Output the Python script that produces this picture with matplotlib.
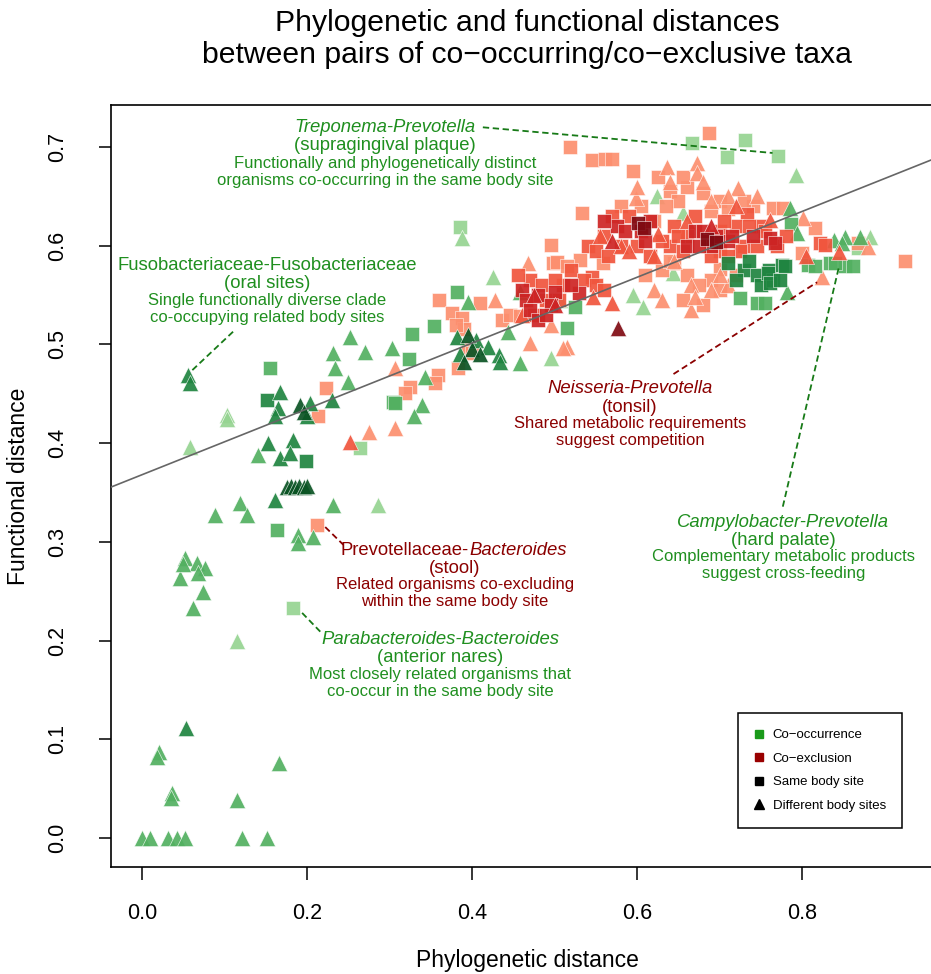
import matplotlib
matplotlib.use('Agg')
import matplotlib.pyplot as plt
from matplotlib.lines import Line2D

plt.rcParams['font.family'] = ['Liberation Sans', 'DejaVu Sans']

# (phylogenetic distance, functional distance, shade 1=light .. 4=darkest)
# co-occurrence, same body site (green squares)
green_squares = [
    (0.164, 0.312, 2), (0.199, 0.382, 3), (0.183, 0.233, 1), (0.155, 0.476, 2),
    (0.151, 0.444, 3), (0.264, 0.395, 1), (0.304, 0.442, 2), (0.385, 0.619, 1),
    (0.382, 0.553, 2), (0.354, 0.519, 2), (0.327, 0.511, 2), (0.324, 0.485, 2),
    (0.307, 0.441, 2), (0.515, 0.517, 2), (0.525, 0.538, 2),
    (0.667, 0.704, 1), (0.731, 0.707, 1), (0.709, 0.690, 1), (0.771, 0.691, 1),
    (0.834, 0.583, 2), (0.852, 0.579, 2), (0.807, 0.580, 2), (0.725, 0.547, 2),
    (0.745, 0.542, 2), (0.755, 0.542, 2), (0.816, 0.579, 2), (0.840, 0.583, 2),
    (0.861, 0.579, 2), (0.868, 0.598, 1), (0.786, 0.622, 2),
    (0.710, 0.583, 3), (0.730, 0.575, 3), (0.745, 0.570, 3), (0.760, 0.575, 3),
    (0.775, 0.580, 3), (0.720, 0.565, 3), (0.750, 0.560, 3), (0.735, 0.585, 3),
    (0.765, 0.565, 3), (0.758, 0.572, 3), (0.761, 0.562, 3), (0.773, 0.565, 3),
    (0.779, 0.579, 3),
]

# co-occurrence, different body sites (green triangles)
green_triangles = [
    (0.000, 0.000, 2), (0.010, 0.000, 2), (0.032, 0.000, 2), (0.043, 0.000, 2),
    (0.052, 0.000, 2), (0.121, 0.000, 2), (0.152, 0.000, 2),
    (0.036, 0.046, 2), (0.035, 0.040, 2), (0.115, 0.038, 2), (0.166, 0.076, 2),
    (0.053, 0.111, 3), (0.020, 0.087, 2), (0.018, 0.082, 2), (0.115, 0.200, 1),
    (0.052, 0.284, 2), (0.067, 0.279, 2), (0.076, 0.274, 2), (0.046, 0.263, 2),
    (0.068, 0.268, 2), (0.074, 0.249, 2), (0.062, 0.233, 2), (0.050, 0.278, 2),
    (0.088, 0.327, 2), (0.119, 0.339, 2), (0.127, 0.327, 2), (0.161, 0.342, 3),
    (0.232, 0.337, 2), (0.286, 0.337, 1),
    (0.189, 0.307, 2), (0.189, 0.299, 2), (0.207, 0.305, 2),
    (0.176, 0.356, 4), (0.180, 0.357, 4), (0.185, 0.356, 4), (0.190, 0.357, 4),
    (0.196, 0.356, 4), (0.200, 0.357, 4),
    (0.056, 0.469, 3), (0.058, 0.461, 3), (0.103, 0.429, 1), (0.103, 0.424, 1),
    (0.058, 0.396, 1),
    (0.167, 0.452, 3), (0.165, 0.436, 3), (0.161, 0.427, 3), (0.192, 0.439, 4),
    (0.204, 0.441, 3), (0.200, 0.427, 3), (0.196, 0.432, 4),
    (0.153, 0.400, 3), (0.141, 0.388, 2), (0.167, 0.385, 3), (0.183, 0.403, 3),
    (0.179, 0.390, 3),
    (0.252, 0.508, 2), (0.232, 0.491, 2), (0.270, 0.492, 2), (0.303, 0.496, 2),
    (0.234, 0.476, 2), (0.250, 0.462, 2), (0.230, 0.444, 3),
    (0.343, 0.467, 2), (0.339, 0.439, 2), (0.330, 0.428, 2), (0.444, 0.513, 2),
    (0.425, 0.568, 1), (0.388, 0.608, 1), (0.395, 0.543, 2),
    (0.382, 0.508, 3), (0.395, 0.510, 4), (0.405, 0.505, 3), (0.385, 0.490, 3),
    (0.400, 0.495, 4), (0.390, 0.482, 4), (0.419, 0.497, 3), (0.432, 0.489, 3),
    (0.434, 0.482, 3), (0.410, 0.490, 4),
    (0.458, 0.481, 2), (0.495, 0.486, 1), (0.458, 0.553, 2), (0.507, 0.545, 1),
    (0.607, 0.538, 1), (0.595, 0.550, 1), (0.656, 0.633, 1), (0.644, 0.572, 1),
    (0.624, 0.650, 1), (0.792, 0.672, 1), (0.785, 0.638, 2), (0.794, 0.613, 2),
    (0.838, 0.606, 2), (0.852, 0.609, 2), (0.870, 0.609, 2), (0.882, 0.609, 1),
    (0.782, 0.553, 2), (0.848, 0.603, 2),
]

# co-exclusion, same body site (red squares)
red_squares = [
    (0.212, 0.317, 1), (0.213, 0.428, 1), (0.223, 0.456, 1), (0.325, 0.457, 1),
    (0.319, 0.451, 1), (0.359, 0.469, 1), (0.355, 0.461, 1), (0.383, 0.476, 1),
    (0.395, 0.496, 1), (0.400, 0.491, 1),
    (0.360, 0.545, 1), (0.410, 0.542, 1), (0.376, 0.532, 1), (0.388, 0.527, 1),
    (0.390, 0.516, 1), (0.380, 0.520, 1), (0.436, 0.525, 1), (0.446, 0.530, 1),
    (0.458, 0.529, 1),
    (0.687, 0.714, 1), (0.519, 0.700, 1), (0.545, 0.687, 1), (0.561, 0.688, 1),
    (0.570, 0.688, 1), (0.595, 0.676, 1), (0.533, 0.633, 1),
    (0.498, 0.583, 1), (0.531, 0.586, 1), (0.558, 0.583, 1), (0.495, 0.601, 1),
    (0.503, 0.584, 1), (0.515, 0.579, 1),
    (0.816, 0.618, 1), (0.867, 0.603, 1), (0.925, 0.585, 1), (0.800, 0.593, 1),
    (0.764, 0.638, 1), (0.777, 0.638, 1),
    (0.700, 0.576, 1), (0.720, 0.570, 1), (0.645, 0.583, 1), (0.660, 0.570, 1),
    (0.690, 0.565, 1), (0.680, 0.540, 1), (0.655, 0.545, 1),
    (0.625, 0.670, 1), (0.640, 0.655, 1), (0.660, 0.660, 1), (0.650, 0.645, 1),
    (0.635, 0.640, 1), (0.680, 0.653, 1), (0.700, 0.645, 1), (0.710, 0.637, 1),
    (0.690, 0.635, 1), (0.620, 0.625, 1), (0.740, 0.640, 1), (0.605, 0.640, 1),
    (0.610, 0.570, 1), (0.630, 0.575, 1), (0.675, 0.560, 1), (0.700, 0.555, 1),
    (0.640, 0.585, 1), (0.580, 0.640, 1), (0.655, 0.670, 1), (0.730, 0.645, 1),
    (0.733, 0.632, 2), (0.750, 0.620, 2), (0.770, 0.600, 2), (0.780, 0.610, 2),
    (0.720, 0.620, 2), (0.700, 0.615, 2), (0.660, 0.610, 2), (0.640, 0.600, 2),
    (0.655, 0.595, 2), (0.700, 0.595, 2), (0.730, 0.600, 2), (0.580, 0.600, 2),
    (0.560, 0.610, 2), (0.540, 0.600, 2), (0.520, 0.575, 2), (0.545, 0.568, 2),
    (0.510, 0.560, 2), (0.470, 0.565, 2), (0.490, 0.545, 2), (0.475, 0.530, 2),
    (0.822, 0.603, 2), (0.828, 0.601, 2),
    (0.485, 0.560, 2), (0.505, 0.545, 2), (0.535, 0.565, 2), (0.550, 0.560, 2),
    (0.560, 0.555, 2), (0.455, 0.570, 2), (0.500, 0.565, 2), (0.570, 0.630, 2),
    (0.590, 0.630, 2), (0.630, 0.605, 2), (0.645, 0.620, 2), (0.650, 0.610, 2),
    (0.705, 0.625, 2), (0.725, 0.595, 2), (0.735, 0.620, 2), (0.745, 0.600, 2),
    (0.755, 0.615, 2), (0.690, 0.590, 2), (0.710, 0.590, 2), (0.600, 0.600, 2),
    (0.615, 0.590, 2), (0.670, 0.630, 2), (0.550, 0.595, 2), (0.565, 0.590, 2),
    (0.575, 0.620, 3), (0.605, 0.615, 3), (0.670, 0.615, 3), (0.690, 0.600, 3),
    (0.710, 0.605, 3), (0.740, 0.610, 3), (0.460, 0.555, 3), (0.480, 0.550, 3),
    (0.500, 0.553, 3), (0.530, 0.552, 3), (0.761, 0.608, 3), (0.767, 0.603, 3),
    (0.465, 0.545, 3), (0.470, 0.535, 3), (0.495, 0.540, 3), (0.520, 0.560, 3),
    (0.480, 0.525, 3), (0.490, 0.530, 3), (0.560, 0.625, 3), (0.585, 0.615, 3),
    (0.610, 0.605, 3), (0.615, 0.625, 3), (0.660, 0.600, 3), (0.675, 0.600, 3),
    (0.680, 0.615, 3), (0.695, 0.610, 3), (0.715, 0.610, 3),
    (0.601, 0.623, 4), (0.685, 0.607, 4), (0.608, 0.618, 4), (0.695, 0.604, 4),
]

# co-exclusion, different body sites (red triangles)
red_triangles = [
    (0.307, 0.476, 1), (0.275, 0.411, 1), (0.307, 0.415, 1), (0.252, 0.401, 2),
    (0.428, 0.545, 1), (0.515, 0.497, 1), (0.470, 0.501, 1), (0.495, 0.520, 1),
    (0.510, 0.496, 1), (0.468, 0.583, 1),
    (0.636, 0.680, 1), (0.673, 0.684, 1), (0.673, 0.674, 1), (0.598, 0.648, 1),
    (0.722, 0.658, 1), (0.824, 0.568, 1), (0.801, 0.628, 1), (0.880, 0.599, 1),
    (0.600, 0.660, 1), (0.640, 0.665, 1), (0.680, 0.665, 1), (0.690, 0.645, 1),
    (0.710, 0.650, 1), (0.745, 0.650, 1), (0.620, 0.555, 1), (0.630, 0.545, 1),
    (0.665, 0.535, 1), (0.710, 0.560, 1),
    (0.577, 0.517, 4), (0.570, 0.542, 2), (0.547, 0.548, 2),
    (0.555, 0.610, 2), (0.570, 0.605, 3), (0.580, 0.600, 2), (0.590, 0.595, 2),
    (0.645, 0.585, 1), (0.665, 0.560, 1), (0.670, 0.548, 1), (0.690, 0.555, 1),
    (0.700, 0.570, 1), (0.805, 0.590, 2), (0.690, 0.620, 3), (0.660, 0.625, 2),
    (0.720, 0.640, 2), (0.625, 0.612, 2), (0.620, 0.590, 2), (0.844, 0.594, 2),
    (0.761, 0.626, 2), (0.460, 0.530, 2),
    (0.475, 0.550, 3), (0.500, 0.540, 3),
]

# fitted line
fit_intercept = 0.368
fit_slope = 0.3335

x_ticks = [0.0, 0.2, 0.4, 0.6, 0.8]
y_ticks = [0.0, 0.1, 0.2, 0.3, 0.4, 0.5, 0.6, 0.7]
legend_labels = ['Co\u2212occurrence', 'Co\u2212exclusion', 'Same body site', 'Different body sites']

greens = ['#96d492', '#52b061', '#1f8540', '#0b5424']
reds = ['#fc8f6f', '#f0553d', '#cd2424', '#800a12']
txt_green = '#1f8f1f'
txt_red = '#8b0000'

fig = plt.figure(figsize=(9.31, 9.74), dpi=100)
ax = fig.add_axes([0.1192, 0.1099, 0.8861, 0.7823])

groups = [
    (green_squares, 's', greens, 100),
    (green_triangles, '^', greens, 135),
    (red_squares, 's', reds, 100),
    (red_triangles, '^', reds, 135),
]

# lighter shades first so darker points sit on top
for shade in [1, 2, 3, 4]:
    for pts, marker, pal, size in groups:
        sel = [p for p in pts if p[2] == shade]
        if not sel:
            continue
        ax.scatter([p[0] for p in sel], [p[1] for p in sel], s=size, marker=marker,
                   c=pal[shade - 1], edgecolors='white', linewidths=0.4, alpha=0.92, zorder=2)

ax.axline((0, fit_intercept), slope=fit_slope, color='#666666', lw=1.2, zorder=3)

ax.set_xlim(-0.0376, 0.962)
ax.set_ylim(-0.0294, 0.7426)
ax.set_xticks(x_ticks)
ax.set_xticklabels(['%.1f' % v for v in x_ticks])
ax.set_yticks(y_ticks)
ax.set_yticklabels(['%.1f' % v for v in y_ticks], rotation=90, va='center')
ax.tick_params(axis='both', direction='out', length=9, width=1.1, labelsize=15.5)
ax.tick_params(axis='x', pad=17)
ax.tick_params(axis='y', pad=22)
for sp in ax.spines.values():
    sp.set_linewidth(1.2)

# annotations: (lines, centre x, baselines, colour)
def block(lines, x, ys, color, first_italic=True):
    for i, (s, y) in enumerate(zip(lines, ys)):
        size = 13.3 if i < 2 else 12
        style = 'italic' if (i == 0 and first_italic) else 'normal'
        ax.text(x, y, s, ha='center', va='baseline', fontsize=size, color=color,
                style=style, zorder=4)

block(['Treponema-Prevotella', '(supragingival plaque)',
       'Functionally and phylogenetically distinct',
       'organisms co-occurring in the same body site'],
      0.2945, [0.7153, 0.697, 0.679, 0.6616], txt_green)
block(['Fusobacteriaceae-Fusobacteriaceae', '(oral sites)',
       'Single functionally diverse clade', 'co-occupying related body sites'],
      0.1515, [0.5755, 0.5573, 0.540, 0.5228], txt_green, first_italic=False)
block(['Neisseria-Prevotella', '(tonsil)',
       'Shared metabolic requirements', 'suggest competition'],
      0.5915, [0.4509, 0.4316, 0.4154, 0.3982], txt_red)
block(['Campylobacter-Prevotella', '(hard palate)',
       'Complementary metabolic products', 'suggest cross-feeding'],
      0.777, [0.3151, 0.2969, 0.2806, 0.2634], txt_green)
block(['', '(stool)', 'Related organisms co-excluding', 'within the same body site'],
      0.3794, [0.2867, 0.2685, 0.2523, 0.2351], txt_red)
ax.text(0.3964, 0.2867, 'Prevotellaceae-', ha='right', va='baseline', fontsize=13.3, color=txt_red)
ax.text(0.3964, 0.2867, 'Bacteroides', ha='left', va='baseline', fontsize=13.3, color=txt_red,
        style='italic')
block(['Parabacteroides-Bacteroides', '(anterior nares)',
       'Most closely related organisms that', 'co-occur in the same body site'],
      0.3612, [0.1966, 0.1783, 0.1611, 0.1439], txt_green)

leaders = [
    ((0.413, 0.764), (0.720, 0.694), '#177a17'),
    ((0.061, 0.113), (0.474, 0.515), '#177a17'),
    ((0.644, 0.818), (0.470, 0.563), txt_red),
    ((0.844, 0.776), (0.577, 0.334), '#177a17'),
    ((0.222, 0.244), (0.315, 0.297), txt_red),
    ((0.194, 0.216), (0.228, 0.209), '#177a17'),
]
for xs, ys, col in leaders:
    ax.plot(xs, ys, ls=(0, (3.5, 2)), color=col, lw=1.3, zorder=4)

handles = [
    Line2D([], [], ls='', marker='s', ms=6, color='#1a9a1a'),
    Line2D([], [], ls='', marker='s', ms=6, color='#990000'),
    Line2D([], [], ls='', marker='s', ms=6, color='black'),
    Line2D([], [], ls='', marker='^', ms=7, color='black'),
]
leg = ax.legend(handles, legend_labels, loc='upper left', bbox_to_anchor=(0.7605, 0.2015),
                fontsize=9.5, fancybox=False, edgecolor='black', framealpha=1,
                borderpad=1.2, handlelength=0.8, handletextpad=0.6, labelspacing=0.85,
                borderaxespad=0)
leg.get_frame().set_linewidth(1.1)

fig.text(0.566, 0.9682, 'Phylogenetic and functional distances', ha='center', va='baseline',
         fontsize=21.7)
fig.text(0.566, 0.9353, 'between pairs of co\u2212occurring/co\u2212exclusive taxa', ha='center',
         va='baseline', fontsize=21.7)
fig.text(0.566, 1 - 967 / 974, 'Phylogenetic distance', ha='center', va='baseline', fontsize=16.5)
fig.text(19 / 931, 1 - 486 / 974, 'Functional distance', ha='center', va='center',
         rotation=90, fontsize=16.5)

fig.savefig('out.png', dpi=100)
